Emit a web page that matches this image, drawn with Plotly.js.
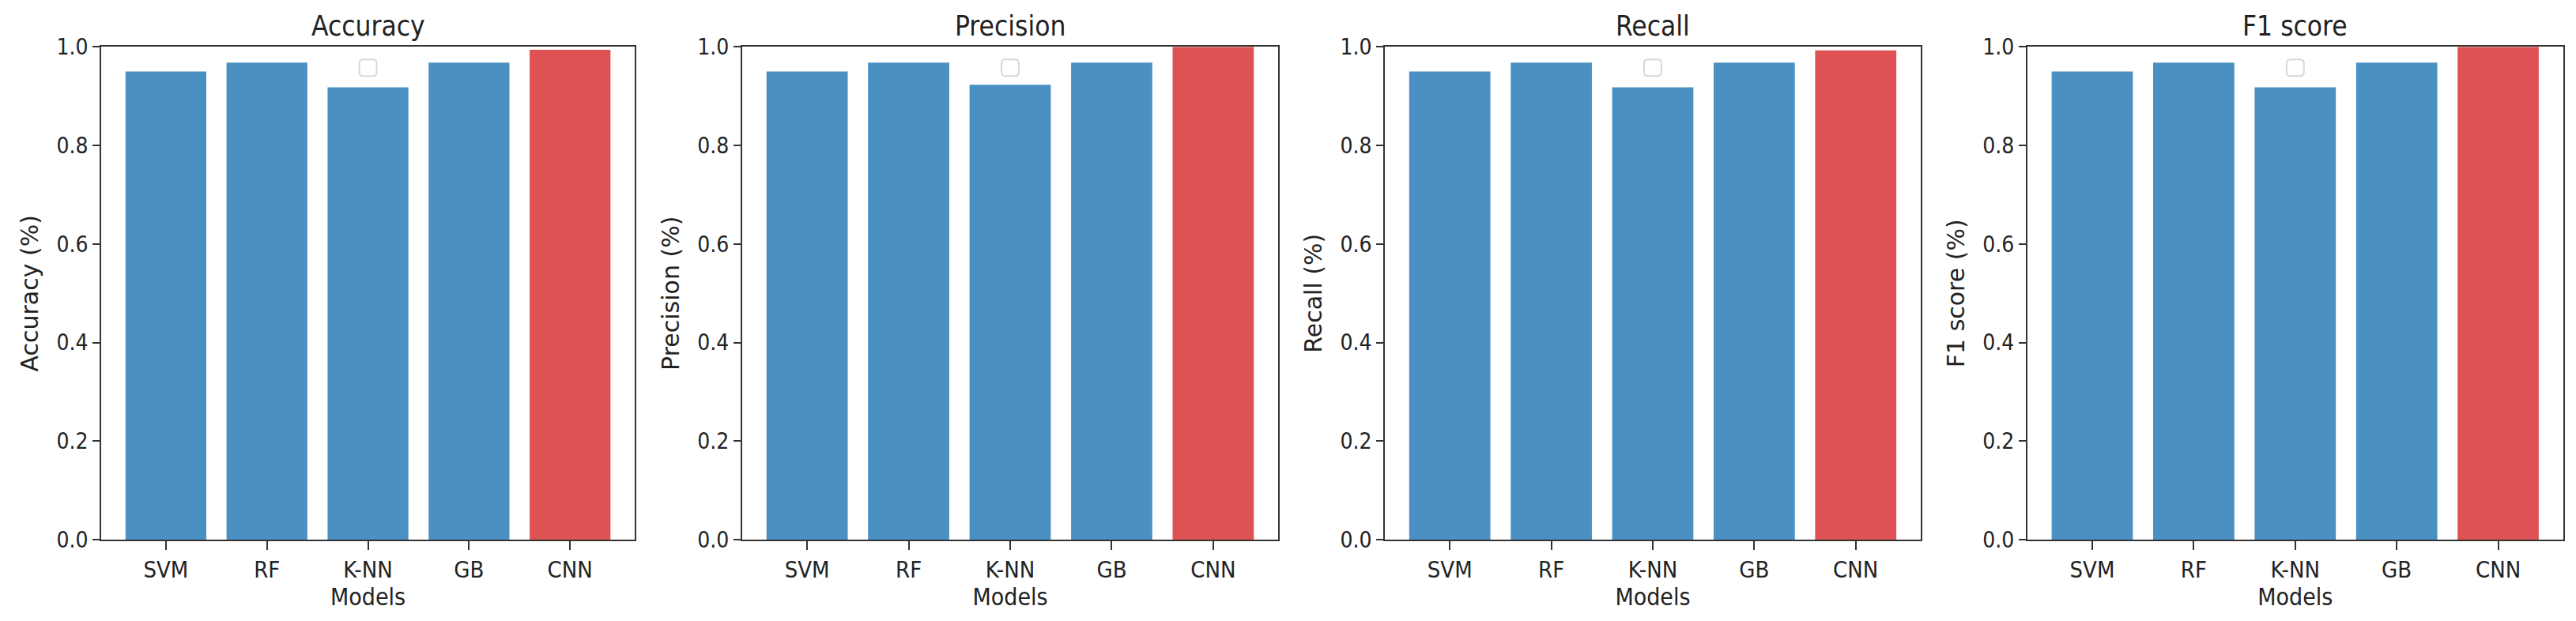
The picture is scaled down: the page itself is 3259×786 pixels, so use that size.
<!DOCTYPE html>
<html>
<head>
<meta charset="utf-8">
<script src="https://cdn.plot.ly/plotly-3.0.1.min.js"></script>
<style>html,body{margin:0;padding:0;background:#fff;}#chart{width:3259px;height:786px;}</style>
</head>
<body>
<div id="chart"></div>
<script>
const models = ["SVM", "RF", "K-NN", "GB", "CNN"];
const accuracy = [0.950, 0.968, 0.918, 0.968, 0.994];
const precision = [0.950, 0.968, 0.923, 0.968, 1.000];
const recall = [0.950, 0.968, 0.918, 0.968, 0.993];
const f1score = [0.950, 0.968, 0.918, 0.968, 1.000];
const metricNames = ["Accuracy", "Precision", "Recall", "F1 score"];
const barColors = ["#4a90c2", "#4a90c2", "#4a90c2", "#4a90c2", "#de5254"];

const series = [accuracy, precision, recall, f1score];
const domains = [[0.0393, 0.2464], [0.2881, 0.4962], [0.5376, 0.7456], [0.7870, 0.9950]];
const yDomain = [0.1307, 0.9246];
const condFont = {family: "DejaVu Sans Condensed, DejaVu Sans, sans-serif", color: "#222"};
const regFont = {family: "DejaVu Sans, sans-serif", color: "#222"};

const data = [];
const layout = {
  width: 3259, height: 786,
  margin: {l: 0, r: 0, t: 0, b: 0},
  paper_bgcolor: "#fff", plot_bgcolor: "#fff",
  showlegend: false, bargap: 0.2,
  annotations: [], shapes: []
};

series.forEach((vals, i) => {
  const sfx = i === 0 ? "" : String(i + 1);
  data.push({
    type: "bar", x: models, y: vals,
    xaxis: "x" + sfx, yaxis: "y" + sfx,
    marker: {color: barColors, line: {width: 0}},
    width: 0.8, hoverinfo: "x+y"
  });
  layout["xaxis" + sfx] = {
    domain: domains[i], anchor: "y" + sfx,
    range: [-0.64, 4.64],
    showline: true, mirror: true, linecolor: "#333", linewidth: 2,
    ticks: "outside", ticklen: 11, tickwidth: 2, tickcolor: "#333",
    showgrid: false, zeroline: false,
    tickfont: Object.assign({size: 29}, condFont),
    title: {text: "Models", font: Object.assign({size: 30}, condFont), standoff: 6}
  };
  layout["yaxis" + sfx] = {
    domain: yDomain, anchor: "x" + sfx,
    range: [0, 1.0], tickvals: [0, 0.2, 0.4, 0.6, 0.8, 1.0], tickformat: ".1f",
    showline: true, mirror: true, linecolor: "#333", linewidth: 2,
    ticks: "outside", ticklen: 9, tickwidth: 2, tickcolor: "#333",
    showgrid: false, zeroline: false,
    tickfont: Object.assign({size: 28}, condFont),
    title: {text: metricNames[i] + " (%)", font: Object.assign({size: 30}, regFont), standoff: 14}
  };
  layout.annotations.push({
    text: metricNames[i], xref: "x" + sfx + " domain", yref: "y" + sfx + " domain",
    x: 0.5, y: 1.0, yshift: 4, xanchor: "center", yanchor: "bottom",
    showarrow: false, font: Object.assign({size: 35}, condFont)
  });
  // empty legend box (matplotlib legend with no entries)
  layout.shapes.push({
    type: "path", xref: "x" + sfx, yref: "y" + sfx + " domain",
    xsizemode: "pixel", ysizemode: "pixel", xanchor: 2, yanchor: 1,
    path: "M -6,-16 L 6,-16 Q 11,-16 11,-21 L 11,-32 Q 11,-37 6,-37 L -6,-37 Q -11,-37 -11,-32 L -11,-21 Q -11,-16 -6,-16 Z",
    line: {color: "#d8d8d8", width: 2}, fillcolor: "rgba(255,255,255,0.8)"
  });
});

Plotly.newPlot("chart", data, layout, {displayModeBar: false, staticPlot: true});
</script>
</body>
</html>
